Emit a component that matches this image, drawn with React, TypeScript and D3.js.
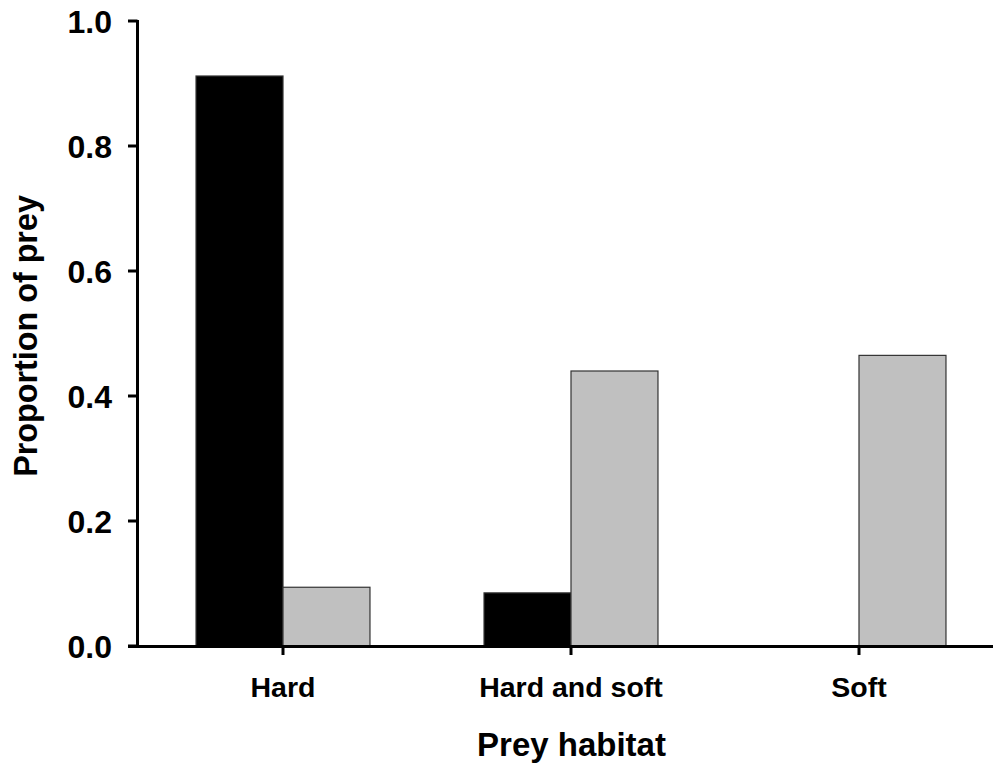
import { scaleBand, scaleLinear } from 'd3'
import { useMemo } from 'react'

const categories = ['Hard', 'Hard and soft', 'Soft']
const seriesNames = ['black', 'grey']
const blackValues = [0.912, 0.085, 0]
const greyValues = [0.094, 0.44, 0.465]
const yTicks = [0, 0.2, 0.4, 0.6, 0.8, 1.0]

const colors: Record<string, string> = { black: '#000000', grey: '#c0c0c0' }
const font = '"Liberation Sans", Arial, sans-serif'

export default function App() {
  const width = 994
  const height = 764
  const axisX = 137.5
  const axisY = 646.5

  // y scale
  const yScale = useMemo(() => scaleLinear().domain([0, 1]).range([646, 21]), [])

  // x scale (categories) and inner scale (series)
  const xScale = useMemo(
    () => scaleBand<string>().domain(categories).range([139, 1003]).paddingInner(0.396).paddingOuter(0.198),
    []
  )
  const innerScale = useMemo(
    () => scaleBand<string>().domain(seriesNames).range([0, xScale.bandwidth()]),
    [xScale]
  )

  const series = [
    { name: 'black', values: blackValues },
    { name: 'grey', values: greyValues },
  ]

  return (
    <svg width={width} height={height} style={{ position: 'absolute', left: 0, top: 0, background: '#fff' }}>
      {/* bars */}
      {series.map((s) =>
        s.values.map((v, i) =>
          v > 0 ? (
            <rect
              key={s.name + i}
              x={(xScale(categories[i]) ?? 0) + (innerScale(s.name) ?? 0)}
              y={yScale(v)}
              width={innerScale.bandwidth()}
              height={yScale(0) - yScale(v)}
              fill={colors[s.name]}
              stroke="#333"
              strokeWidth={1.2}
            />
          ) : null
        )
      )}

      {/* y axis */}
      <line x1={axisX} x2={axisX} y1={yScale(1) - 1} y2={axisY + 1.5} stroke="#000" strokeWidth={3} />
      {yTicks.map((t) => (
        <g key={t}>
          <line x1={128} x2={axisX} y1={yScale(t)} y2={yScale(t)} stroke="#000" strokeWidth={3} />
          <text
            x={112}
            y={yScale(t) + 12}
            textAnchor="end"
            fontFamily={font}
            fontWeight="bold"
            fontSize={32}
            fill="#000"
          >
            {t.toFixed(1)}
          </text>
        </g>
      ))}

      {/* x axis */}
      <line x1={128} x2={993} y1={axisY} y2={axisY} stroke="#000" strokeWidth={3} />
      {categories.map((c) => {
        const cx = (xScale(c) ?? 0) + xScale.bandwidth() / 2
        return (
          <g key={c}>
            <line x1={cx} x2={cx} y1={axisY} y2={655} stroke="#000" strokeWidth={3} />
            <text x={cx} y={697} textAnchor="middle" fontFamily={font} fontWeight="bold" fontSize={28.5} fill="#000">
              {c}
            </text>
          </g>
        )
      })}

      {/* axis titles */}
      <text x={571.5} y={756} textAnchor="middle" fontFamily={font} fontWeight="bold" fontSize={33} fill="#000">
        Prey habitat
      </text>
      <text
        transform="translate(37,336) rotate(-90)"
        textAnchor="middle"
        fontFamily={font}
        fontWeight="bold"
        fontSize={32.3}
        fill="#000"
      >
        Proportion of prey
      </text>
    </svg>
  )
}
